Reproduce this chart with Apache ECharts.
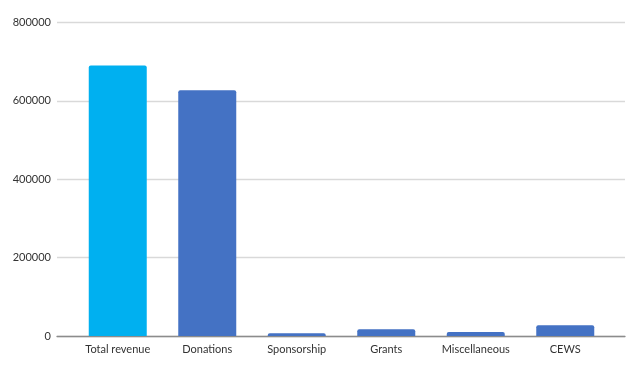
<!DOCTYPE html>
<html><head><meta charset="utf-8">
<script src="https://cdn.jsdelivr.net/npm/echarts@6/dist/echarts.min.js"></script>
<style>html,body{margin:0;padding:0;background:#fff}#c{width:640px;height:367px}</style>
</head><body><div id="c"></div>
<script>
const categories = ['Total revenue','Donations','Sponsorship','Grants','Miscellaneous','CEWS'];
const values = [690000, 627000, 7000, 17000, 10000, 27500];
const barColors = ['#00B0F0','#4472C4','#4472C4','#4472C4','#4472C4','#4472C4'];
const yTicks = {min:0, max:800000, interval:200000};

const chart = echarts.init(document.getElementById('c'), null, {renderer:'canvas'});
const font = 'Lato';
chart.setOption({
  animation:false,
  grid:[
    {left:57, right:15, top:22.5, bottom:31},
    {left:73, right:30, top:22.5, bottom:31}
  ],
  xAxis:[
    {gridIndex:0, type:'category', data:categories, axisLine:{lineStyle:{color:'#8c8c8c',width:1.3}},
     axisTick:{show:false}, axisLabel:{show:false}},
    {gridIndex:1, type:'category', data:categories, axisLine:{show:false}, axisTick:{show:false},
     axisLabel:{color:'#333', fontFamily:font, fontSize:11, margin:8}}
  ],
  yAxis:[
    {gridIndex:0, type:'value', min:yTicks.min, max:yTicks.max, interval:yTicks.interval,
     axisLine:{show:false}, axisTick:{show:false},
     axisLabel:{color:'#333', fontFamily:font, fontSize:11, margin:6, formatter:v=>String(v)},
     splitLine:{lineStyle:{color:'#d9d9d9', width:1.3}}},
    {gridIndex:1, type:'value', min:yTicks.min, max:yTicks.max, interval:yTicks.interval,
     show:false, splitLine:{show:false}}
  ],
  series:[{
    type:'bar', xAxisIndex:1, yAxisIndex:1, barWidth:58,
    data: values.map((v,i)=>({value:v, itemStyle:{color:barColors[i]}})),
    itemStyle:{borderRadius:[2,2,0,0]}
  }]
});
</script></body></html>
